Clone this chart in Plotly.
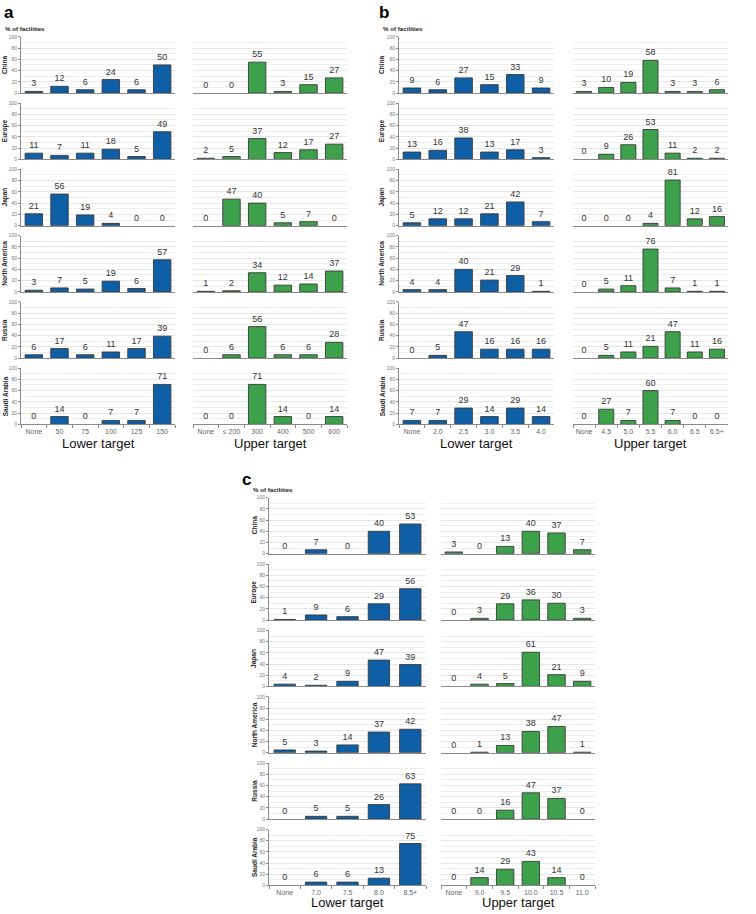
import plotly.graph_objects as go

W, H = 756, 914
regions = ["China", "Europe", "Japan", "North America", "Russia", "Saudi Arabia"]

# Panel a
a_lower_cats = ["None", "50", "75", "100", "125", "150"]
a_upper_cats = ["None", "≤ 200", "300", "400", "500", "600"]
a_lower = [[3, 12, 6, 24, 6, 50], [11, 7, 11, 18, 5, 49], [21, 56, 19, 4, 0, 0],
           [3, 7, 5, 19, 6, 57], [6, 17, 6, 11, 17, 39], [0, 14, 0, 7, 7, 71]]
a_upper = [[0, 0, 55, 3, 15, 27], [2, 5, 37, 12, 17, 27], [0, 47, 40, 5, 7, 0],
           [1, 2, 34, 12, 14, 37], [0, 6, 56, 6, 6, 28], [0, 0, 71, 14, 0, 14]]

# Panel b
b_lower_cats = ["None", "2.0", "2.5", "3.0", "3.5", "4.0"]
b_upper_cats = ["None", "4.5", "5.0", "5.5", "6.0", "6.5", "6.5+"]
b_lower = [[9, 6, 27, 15, 33, 9], [13, 16, 38, 13, 17, 3], [5, 12, 12, 21, 42, 7],
           [4, 4, 40, 21, 29, 1], [0, 5, 47, 16, 16, 16], [7, 7, 29, 14, 29, 14]]
b_upper = [[3, 10, 19, 58, 3, 3, 6], [0, 9, 26, 53, 11, 2, 2], [0, 0, 0, 4, 81, 12, 16],
           [0, 5, 11, 76, 7, 1, 1], [0, 5, 11, 21, 47, 11, 16], [0, 27, 7, 60, 7, 0, 0]]

# Panel c
c_lower_cats = ["None", "7.0", "7.5", "8.0", "8.5+"]
c_upper_cats = ["None", "9.0", "9.5", "10.0", "10.5", "11.0"]
c_lower = [[0, 7, 0, 40, 53], [1, 9, 6, 29, 56], [4, 2, 9, 47, 39],
           [5, 3, 14, 37, 42], [0, 5, 5, 26, 63], [0, 6, 6, 13, 75]]
c_upper = [[3, 0, 13, 40, 37, 7], [0, 3, 29, 36, 30, 3], [0, 4, 5, 61, 21, 9],
           [0, 1, 13, 38, 47, 1], [0, 0, 16, 47, 37, 0], [0, 14, 29, 43, 14, 0]]

BLUE = "#0f5fa6"
GREEN = "#3da04b"
EDGE = "#3a3a3a"
FONT = "Liberation Sans, Arial, sans-serif"

fig = go.Figure()
layout_axes = {}
annotations = []
counter = [0]


def px_x(x):
    return x / W


def px_y(y):
    return 1 - y / H


def add_subplot(cats, vals, x0, x1, ytop, ybot, color, show_yaxis, bottom):
    counter[0] += 1
    n = counter[0]
    xa = "x" if n == 1 else f"x{n}"
    ya = "y" if n == 1 else f"y{n}"
    xk = "xaxis" if n == 1 else f"xaxis{n}"
    yk = "yaxis" if n == 1 else f"yaxis{n}"
    fig.add_trace(go.Bar(
        x=cats, y=vals, xaxis=xa, yaxis=ya,
        marker=dict(color=color,
                    line=dict(color=EDGE, width=[0 if v == 0 else 0.9 for v in vals])),
        width=0.68,
        text=[str(v) for v in vals], textposition="outside", cliponaxis=False,
        constraintext="none",
        textfont=dict(size=9, color="#333333", family=FONT),
        showlegend=False, hoverinfo="skip",
    ))
    layout_axes[xk] = dict(
        domain=[px_x(x0), px_x(x1)], anchor=ya, type="category",
        range=[-0.5, len(cats) - 0.5],
        showline=True, linecolor="#8a8a8a", linewidth=1,
        showgrid=False, zeroline=False,
        showticklabels=bottom, tickangle=0,
        ticks="outside" if bottom else "", tickson="boundaries",
        ticklen=3, tickcolor="#8a8a8a",
        tickfont=dict(size=7, color="#666666", family=FONT),
        fixedrange=True,
    )
    layout_axes[yk] = dict(
        domain=[px_y(ybot), px_y(ytop)], anchor=xa,
        range=[0, 100], dtick=20, tick0=0,
        showgrid=True, gridcolor="#e6e6e6", gridwidth=1,
        minor=dict(dtick=10, showgrid=True, gridcolor="#eeeeee", gridwidth=1),
        zeroline=False,
        showline=show_yaxis, linecolor="#8a8a8a", linewidth=1,
        showticklabels=show_yaxis,
        ticks="outside" if show_yaxis else "", ticklen=2, tickcolor="#8a8a8a",
        tickfont=dict(size=5, color="#777777", family=FONT),
        fixedrange=True,
    )


def add_panel(letter, letter_x, letter_y, lcats, ldata, ucats, udata,
              lx, ux, top0, pitch, height, label_x, bottom_label_y):
    for i, reg in enumerate(regions):
        ytop = top0 + pitch * i
        ybot = ytop + height
        add_subplot(lcats, ldata[i], lx[0], lx[1], ytop, ybot, BLUE, True, i == 5)
        add_subplot(ucats, udata[i], ux[0], ux[1], ytop, ybot, GREEN, False, i == 5)
        annotations.append(dict(
            x=px_x(label_x), y=px_y((ytop + ybot) / 2), xref="paper", yref="paper",
            text=f"<b>{reg}</b>", textangle=-90, showarrow=False,
            font=dict(size=6.5, color="#222222", family=FONT),
            xanchor="center", yanchor="middle"))
    annotations.append(dict(
        x=px_x(letter_x), y=px_y(letter_y), xref="paper", yref="paper",
        text=f"<b>{letter}</b>", showarrow=False,
        font=dict(size=17, color="#000000", family=FONT),
        xanchor="left", yanchor="middle"))
    annotations.append(dict(
        x=px_x(lx[0] - 18), y=px_y(top0 - 8), xref="paper", yref="paper",
        text="<b>% of facilities</b>", showarrow=False,
        font=dict(size=6.2, color="#222222", family=FONT),
        xanchor="left", yanchor="middle"))
    annotations.append(dict(
        x=px_x((lx[0] + lx[1]) / 2), y=px_y(bottom_label_y), xref="paper", yref="paper",
        text="Lower target", showarrow=False,
        font=dict(size=13, color="#111111", family=FONT),
        xanchor="center", yanchor="middle"))
    annotations.append(dict(
        x=px_x((ux[0] + ux[1]) / 2), y=px_y(bottom_label_y), xref="paper", yref="paper",
        text="Upper target", showarrow=False,
        font=dict(size=13, color="#111111", family=FONT),
        xanchor="center", yanchor="middle"))


add_panel("a", 2, 10, a_lower_cats, a_lower, a_upper_cats, a_upper,
          (21, 175), (193, 347), 34, 66.7, 56.7, 5, 443)
add_panel("b", 377, 10, b_lower_cats, b_lower, b_upper_cats, b_upper,
          (399, 554), (573, 728), 34, 66.7, 56.7, 382, 443)
add_panel("c", 240, 480, c_lower_cats, c_lower, c_upper_cats, c_upper,
          (269, 426), (441, 595), 498, 66.8, 56.3, 254.5, 905)

fig.update_layout(
    width=W, height=H,
    margin=dict(l=0, r=0, t=0, b=0),
    paper_bgcolor="white", plot_bgcolor="rgba(0,0,0,0)",
    font=dict(family=FONT),
    annotations=annotations,
    bargap=0.3,
    **layout_axes,
)

fig.write_html("out.html", config={"displayModeBar": False},
               post_script="document.body.style.margin='0px';")
